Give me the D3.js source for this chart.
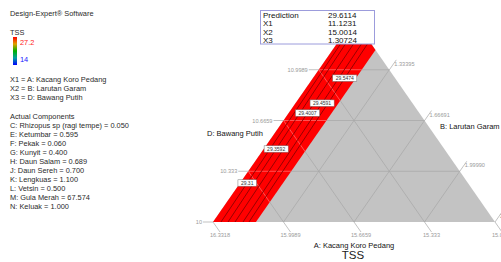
<!DOCTYPE html>
<html>
<head>
<meta charset="utf-8">
<script src="https://cdn.jsdelivr.net/npm/d3@7"></script>
<style>
  body { margin: 0; background: #fff; }
  svg text { font-family: "Liberation Sans", Arial, sans-serif; }
</style>
</head>
<body>
<div id="chart"></div>
<script>
// axis ticks of the mixture triangle (actual units)
const bottomValues = [16.3318, 15.9989, 15.6659, 15.333, 15.0001];
const bottomTicks = ["16.3318", "15.9989", "15.6659", "15.333", "15.0001"];
const leftValues = [10, 10.333, 10.6659, 10.9989];
const leftTicks = ["10", "10.333", "10.6659", "10.9989"];
const rightValues = [1.33395, 1.66691, 1.9999, 2.33289];
const rightTicks = ["1.33395", "1.66691", "1.99990", "2.33289"];

// region above the top of the colour scale (B below this value)
const redLimit = 1.203;

// contour lines: level, B at D = 10, B at D = 11.128, D where the label sits
const contourLevels = ["29.31", "29.3592", "29.4007", "29.4591", "29.5474"];
const contourLow = [1.0378, 1.0709, 1.104, 1.1418, 1.170];
const contourHigh = [1.0189, 1.0425, 1.0804, 1.118, 1.1465];
const contourLabelAt = [10.256, 10.479, 10.715, 10.780, 10.944];

const predNames = ["Prediction", "X1", "X2", "X3"];
const predValues = ["29.6114", "11.1231", "15.0014", "1.30724"];

const factorNames = ["X1 = A: Kacang Koro Pedang", "X2 = B: Larutan Garam", "X3 = D: Bawang Putih"];
const actualComponents = [
  "C: Rhizopus sp (ragi tempe) = 0.050",
  "E: Ketumbar = 0.595",
  "F: Pekak = 0.060",
  "G: Kunyit = 0.400",
  "H: Daun Salam = 0.689",
  "J: Daun Sereh = 0.700",
  "K: Lengkuas = 1.100",
  "L: Vetsin = 0.500",
  "M: Gula Merah = 67.574",
  "N: Keluak = 1.000"
];
const colorMax = "27.2", colorMin = "14";

const width = 501, height = 262;
const svg = d3.select("#chart").append("svg")
  .attr("width", width)
  .attr("height", height);

// fractions of each component inside the simplex
const lScale = d3.scaleLinear().domain([15.0001, 16.3318]).range([0, 1]);
const tScale = d3.scaleLinear().domain([10, 11.3318]).range([0, 1]);
const rScale = d3.scaleLinear().domain([1.0, 2.33289]).range([0, 1]);

// screen placement of the triangle
const xPos = d3.scaleLinear().domain([0, 1]).range([213, 495]);
const yPos = d3.scaleLinear().domain([0, 1]).range([222, 19]);
function pt(r, t) { return [xPos(r + t / 2), yPos(t)]; }

const line = d3.line();
const tri = svg.append("g");

tri.append("path")
  .attr("d", line([pt(0, 0), pt(1, 0), pt(0, 1)]) + "Z")
  .attr("fill", "#c3c3c3");

// grid lines (three families)
function gridSegments() {
  const segs = [];
  [0.25, 0.5, 0.75].forEach(f => {
    segs.push([pt(0, f), pt(1 - f, f)]);        // constant D
    segs.push([pt(1 - f, 0), pt(0, 1 - f)]);    // constant A (bottom)
    segs.push([pt(f, 0), pt(f, 1 - f)]);        // constant B (right)
  });
  return segs;
}

tri.selectAll(".grid")
  .data(gridSegments())
  .enter().append("path")
  .attr("class", "grid")
  .attr("d", d => line(d))
  .attr("stroke", "#a6a6a6")
  .attr("stroke-width", 0.7)
  .attr("fill", "none");

const rc = rScale(redLimit);
const redPoly = [pt(0, 0), pt(rc, 0), pt(rc, 1 - rc), pt(0, 1)];
svg.append("clipPath").attr("id", "redclip")
  .append("path").attr("d", line(redPoly) + "Z");

tri.append("path")
  .attr("d", line(redPoly) + "Z")
  .attr("fill", "#ff0000");

const redG = tri.append("g").attr("clip-path", "url(#redclip)");
redG.selectAll(".grid2")
  .data(gridSegments())
  .enter().append("path")
  .attr("d", d => line(d))
  .attr("stroke", "#ff8a8a")
  .attr("stroke-width", 0.6)
  .attr("fill", "none");

const tTop = tScale(11.128);
function contourPoint(i, t) {
  const r0 = rScale(contourLow[i]), r1 = rScale(contourHigh[i]);
  return pt(r0 + (r1 - r0) * t / tTop, t);
}
redG.selectAll(".contour")
  .data(contourLevels)
  .enter().append("path")
  .attr("d", (d, i) => line([contourPoint(i, 0), contourPoint(i, 0.95)]))
  .attr("stroke", "#8c0000")
  .attr("stroke-width", 0.9)
  .attr("fill", "none");

// ticks and tick labels
const tickColor = "#a8a8a8", tickText = "#9a9a9a";
const axes = svg.append("g").attr("font-size", 5.6).attr("fill", tickText);

leftValues.forEach((v, i) => {
  const t = tScale(v);
  const p = pt(0, t);
  axes.append("line")
    .attr("x1", p[0] - 10).attr("y1", p[1]).attr("x2", p[0]).attr("y2", p[1])
    .attr("stroke", tickColor).attr("stroke-width", 0.7);
  axes.append("text")
    .attr("x", p[0] - 11).attr("y", p[1] + 2)
    .attr("text-anchor", "end")
    .text(leftTicks[i]);
});

bottomValues.forEach((v, i) => {
  const l = lScale(v);
  const p = pt(1 - l, 0);
  axes.append("line")
    .attr("x1", p[0]).attr("y1", p[1]).attr("x2", p[0] + 7).attr("y2", p[1] + 10)
    .attr("stroke", tickColor).attr("stroke-width", 0.7);
  axes.append("text")
    .attr("x", p[0] + 7).attr("y", p[1] + 15)
    .attr("text-anchor", "middle")
    .text(bottomTicks[i]);
});

rightValues.forEach((v, i) => {
  const r = rScale(v);
  const p = pt(r, 1 - r);
  axes.append("line")
    .attr("x1", p[0]).attr("y1", p[1]).attr("x2", p[0] + 7).attr("y2", p[1] - 10)
    .attr("stroke", tickColor).attr("stroke-width", 0.7);
  axes.append("text")
    .attr("x", p[0] + 5).attr("y", p[1] - 4)
    .text(rightTicks[i]);
});

// contour labels
contourLevels.forEach((lab, i) => {
  const p = contourPoint(i, tScale(contourLabelAt[i]));
  const g = svg.append("g");
  const txt = g.append("text")
    .attr("x", p[0]).attr("y", p[1] + 1.8)
    .attr("text-anchor", "middle")
    .attr("font-size", 5)
    .attr("fill", "#333")
    .text(lab);
  const w = txt.node().getComputedTextLength() + 6;
  g.insert("rect", "text")
    .attr("x", p[0] - w / 2).attr("y", p[1] - 3.2)
    .attr("width", w).attr("height", 6.4)
    .attr("fill", "#fff")
    .attr("stroke", "#777")
    .attr("stroke-width", 0.5);
});

// prediction box
svg.append("rect")
  .attr("x", 260.5).attr("y", 10.5).attr("width", 114).attr("height", 33.5)
  .attr("fill", "#fff")
  .attr("stroke", "#9c9cdc")
  .attr("stroke-width", 1);
const pred = svg.append("g").attr("font-size", 8).attr("fill", "#111");
predNames.forEach((n, i) => {
  pred.append("text").attr("x", 263).attr("y", 18 + i * 8.3).text(n);
  pred.append("text").attr("x", 328).attr("y", 18 + i * 8.3).text(predValues[i]);
});

// component names around the triangle
const names = svg.append("g").attr("font-size", 7.5).attr("fill", "#111");
names.append("text").attr("x", 207).attr("y", 136).text("D: Bawang Putih");
names.append("text").attr("x", 440).attr("y", 129).text("B: Larutan Garam");
names.append("text").attr("x", 354).attr("y", 248).attr("text-anchor", "middle")
  .text("A: Kacang Koro Pedang");
svg.append("text").attr("x", 353).attr("y", 259).attr("text-anchor", "middle")
  .attr("font-size", 11.5).attr("fill", "#222").text("TSS");

// left information panel
const info = svg.append("g").attr("font-size", 7.4).attr("fill", "#2a2a2a");
info.append("text").attr("x", 10).attr("y", 15.5).text("Design-Expert\u00ae Software");
info.append("text").attr("x", 10).attr("y", 34.5).text("TSS");

const grad = svg.append("defs").append("linearGradient")
  .attr("id", "cbar").attr("x1", 0).attr("y1", 0).attr("x2", 0).attr("y2", 1);
["#ff0000", "#e0a000", "#00b000", "#00a0a0", "#0000ff"].forEach((c, i, a) => {
  grad.append("stop").attr("offset", i / (a.length - 1)).attr("stop-color", c);
});
info.append("rect").attr("x", 13).attr("y", 37).attr("width", 4).attr("height", 28)
  .attr("fill", "url(#cbar)");
info.append("text").attr("x", 20).attr("y", 44.5).attr("fill", "#ff2020").text(colorMax);
info.append("text").attr("x", 20).attr("y", 61.5).attr("fill", "#2020ff").text(colorMin);

factorNames.forEach((s, i) => {
  info.append("text").attr("x", 10).attr("y", 81.7 + i * 9.2).text(s);
});
info.append("text").attr("x", 10).attr("y", 118.7).text("Actual Components");
actualComponents.forEach((s, i) => {
  info.append("text").attr("x", 10).attr("y", 127.7 + i * 9).text(s);
});
</script>
</body>
</html>
